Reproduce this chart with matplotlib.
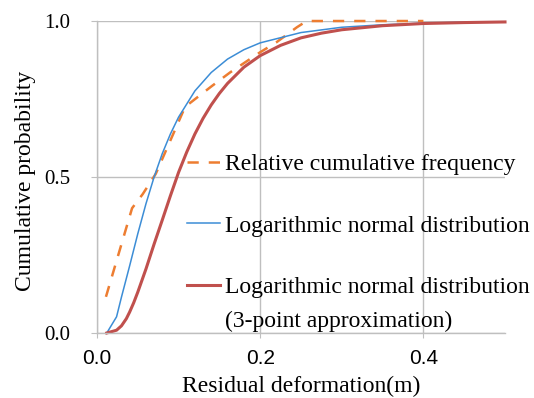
import numpy as np
import matplotlib.pyplot as plt

plt.rcParams['font.family'] = 'Liberation Serif'

# relative cumulative frequency of the observed residual deformation
deform_obs = [0.011, 0.043, 0.056, 0.072, 0.108, 0.14, 0.163, 0.20, 0.22, 0.245, 0.257, 0.40]
freq_obs = [0.116, 0.40, 0.445, 0.51, 0.725, 0.79, 0.835, 0.90, 0.932, 0.98, 1.0, 1.0]

# fitted log-normal distribution
deform_ln = [0.012, 0.024, 0.03, 0.04, 0.05, 0.06, 0.07, 0.08, 0.09, 0.10, 0.12,
             0.14, 0.16, 0.18, 0.20, 0.25, 0.30, 0.35, 0.40, 0.45, 0.50]
prob_ln = [0.0, 0.052, 0.115, 0.215, 0.318, 0.414, 0.50, 0.575, 0.638, 0.692, 0.776,
           0.835, 0.878, 0.908, 0.930, 0.963, 0.980, 0.988, 0.993, 0.996, 0.997]

# log-normal distribution, 3-point approximation
deform_3pt = [0.012, 0.024, 0.03, 0.036, 0.04, 0.045, 0.05, 0.055, 0.06, 0.07, 0.08,
              0.09, 0.10, 0.11, 0.12, 0.13, 0.14, 0.15, 0.16, 0.18, 0.20, 0.225, 0.25,
              0.275, 0.30, 0.35, 0.40, 0.45, 0.50]
prob_3pt = [0.0, 0.009, 0.023, 0.046, 0.067, 0.097, 0.131, 0.168, 0.205, 0.285, 0.362,
            0.440, 0.515, 0.580, 0.638, 0.688, 0.731, 0.768, 0.800, 0.852, 0.889, 0.922,
            0.946, 0.961, 0.972, 0.985, 0.992, 0.995, 0.997]

labels = ['Relative cumulative frequency',
          'Logarithmic normal distribution',
          'Logarithmic normal distribution']

fig = plt.figure(figsize=(5.34, 3.98), dpi=100)
ax = fig.add_axes([0.1816, 0.1633, 0.7641, 0.7839])

l0, = ax.plot(deform_obs, freq_obs, color='#ED7D31', lw=1.8,
              linestyle=(0, (4.5, 4)), clip_on=False)
l1, = ax.plot(deform_ln, prob_ln, color='#3C8DD6', lw=1.1, clip_on=False)
l2, = ax.plot(deform_3pt, prob_3pt, color='#C0504D', lw=2.2, clip_on=False)

ax.set_xlim(0, 0.5)
ax.set_ylim(0, 1.0)
ax.set_xticks([0.0, 0.2, 0.4])
ax.set_yticks([0.0, 0.5, 1.0])
ax.xaxis.set_major_formatter(plt.FormatStrFormatter('%.1f'))
ax.yaxis.set_major_formatter(plt.FormatStrFormatter('%.1f'))

ax.grid(color='#bfbfbf', lw=1.0)
ax.set_axisbelow(True)
for s in ['top', 'right']:
    ax.spines[s].set_visible(False)
for s in ['left', 'bottom']:
    ax.spines[s].set_color('#bfbfbf')
    ax.spines[s].set_linewidth(1.0)

ax.tick_params(axis='y', direction='out', length=4.5, color='#bfbfbf',
               labelsize=15, pad=15)
ax.tick_params(axis='x', direction='out', length=3.5, color='#bfbfbf',
               labelsize=15, pad=8)
for t in ax.get_xticklabels():
    t.set_fontfamily('Liberation Sans')

ax.set_xlabel('Residual deformation(m)', fontsize=17)
ax.set_ylabel('Cumulative probability', fontsize=17)
ax.xaxis.set_label_coords(0.5, -0.138)
ax.yaxis.set_label_coords(-0.15, 0.487)

ax.legend([l0, l1, l2], labels, loc='upper left', bbox_to_anchor=(0.2206, 0.574),
          frameon=False, fontsize=17, borderpad=0, borderaxespad=0,
          handlelength=1.4, handletextpad=0.2, labelspacing=1.68)
ax.text(0.3137, 0.019, '(3-point approximation)', transform=ax.transAxes,
        fontsize=17, va='baseline', ha='left')

fig.savefig('out.png', dpi=100)
